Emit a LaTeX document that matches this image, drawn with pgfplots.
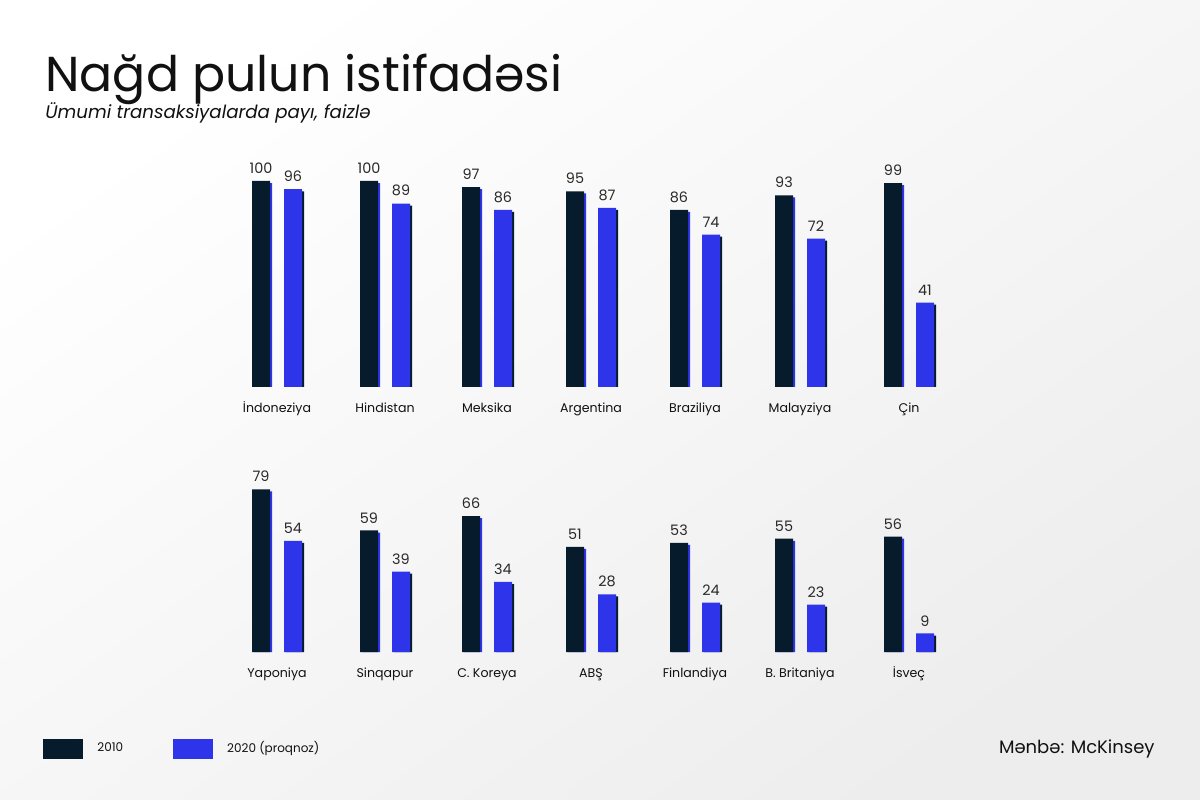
\documentclass[border=0pt]{standalone}
\usepackage{fontspec}
\setmainfont{Poppins}
\usepackage{pgfplots}
\usepackage{pgfplotstable}
\pgfplotsset{compat=1.18}
\definecolor{navy}{HTML}{061C2C}
\definecolor{vivid}{HTML}{2E34EA}
\definecolor{ink}{HTML}{111111}

% x = group centre in px, a = 2010, b = 2020 (proqnoz)
\pgfplotstableread{
x   a   b
277 100 96
385 100 89
487 97  86
591 95  87
695 86  74
800 93  72
909 99  41
}\rowone
\pgfplotstableread{
x   a   b
277 79 54
385 59 39
487 66 34
591 51 28
695 53 24
800 55 23
909 56 9
}\rowtwo

\pgfplotsset{
  barrow/.style={
    anchor=south west, scale only axis,
    width=600bp, height=113.3bp,
    xmin=0, xmax=1200, ymin=0, ymax=110,
    ybar, bar width=9bp, clip=false,
    axis line style={draw=none},
    ytick=\empty, major tick length=0pt,
    /pgf/number format/assume math mode=true,
    xtick={277,385,487,591,695,800,909},
    xticklabel style={font=\fontsize{6.3bp}{7bp}\selectfont, color=ink,
      inner sep=0pt, anchor=north, text height=4.5bp, text depth=1.3bp, yshift=-8bp},
    every node near coord/.append style={font=\fontsize{7.2bp}{8bp}\selectfont,
      color=ink!90, inner sep=0pt, anchor=south, yshift=3.5bp},
  },
}

\begin{document}
\begin{tikzpicture}
\shade[top color=white, bottom color=black!7, shading angle=35]
  (0bp,0bp) rectangle (600bp,400bp);

\node[anchor=base west, inner sep=0pt, color=ink, font=\fontsize{24.5bp}{28bp}\selectfont]
  at (22.5bp,354bp) {Nağd pulun istifadəsi};
\node[anchor=base west, inner sep=0pt, color=ink, font=\fontsize{9.1bp}{11bp}\selectfont\itshape]
  at (22.5bp,340.5bp) {Ümumi transaksiyalarda payı, faizlə};
\node[anchor=base east, inner sep=0pt, color=ink, font=\fontsize{9bp}{11bp}\selectfont]
  at (577.5bp,23.5bp) {Mənbə: McKinsey};

\begin{axis}[barrow, at={(0bp,206.5bp)},
  xticklabels={İndoneziya,Hindistan,Meksika,Argentina,Braziliya,Malayziya,Çin}]
  \addplot[fill=vivid, draw=none, bar shift=-7bp] table[x=x, y expr=\thisrow{a}-1]{\rowone};
  \addplot[fill=navy, draw=none, bar shift=9bp] table[x=x, y expr=\thisrow{b}-1]{\rowone};
  \addplot[fill=navy, draw=none, bar shift=-8bp, nodes near coords] table[x=x, y=a]{\rowone};
  \addplot[fill=vivid, draw=none, bar shift=8bp, nodes near coords] table[x=x, y=b]{\rowone};
\end{axis}

\begin{axis}[barrow, at={(0bp,74bp)},
  xticklabels={Yaponiya,Sinqapur,C. Koreya,ABŞ,Finlandiya,B. Britaniya,İsveç},
  legend columns=2,
  legend style={at={(axis cs:43,-47)}, anchor=west, draw=none, fill=none,
    inner sep=0pt, row sep=0pt,
    nodes={inner sep=0pt, font=\fontsize{6bp}{7bp}\selectfont, color=ink},
    /tikz/every even column/.append style={column sep=25bp}},
  legend image code/.code={\fill (0bp,-5bp) rectangle (20bp,5bp); \path (27bp,0bp);},
  ]
  \addplot[fill=vivid, draw=none, bar shift=-7bp, forget plot] table[x=x, y expr=\thisrow{a}-1]{\rowtwo};
  \addplot[fill=navy, draw=none, bar shift=9bp, forget plot] table[x=x, y expr=\thisrow{b}-1]{\rowtwo};
  \addplot[fill=navy, draw=none, bar shift=-8bp, nodes near coords] table[x=x, y=a]{\rowtwo};
  \addlegendentry{2010}
  \addplot[fill=vivid, draw=none, bar shift=8bp, nodes near coords] table[x=x, y=b]{\rowtwo};
  \addlegendentry{2020 (proqnoz)}
\end{axis}
\end{tikzpicture}
\end{document}
